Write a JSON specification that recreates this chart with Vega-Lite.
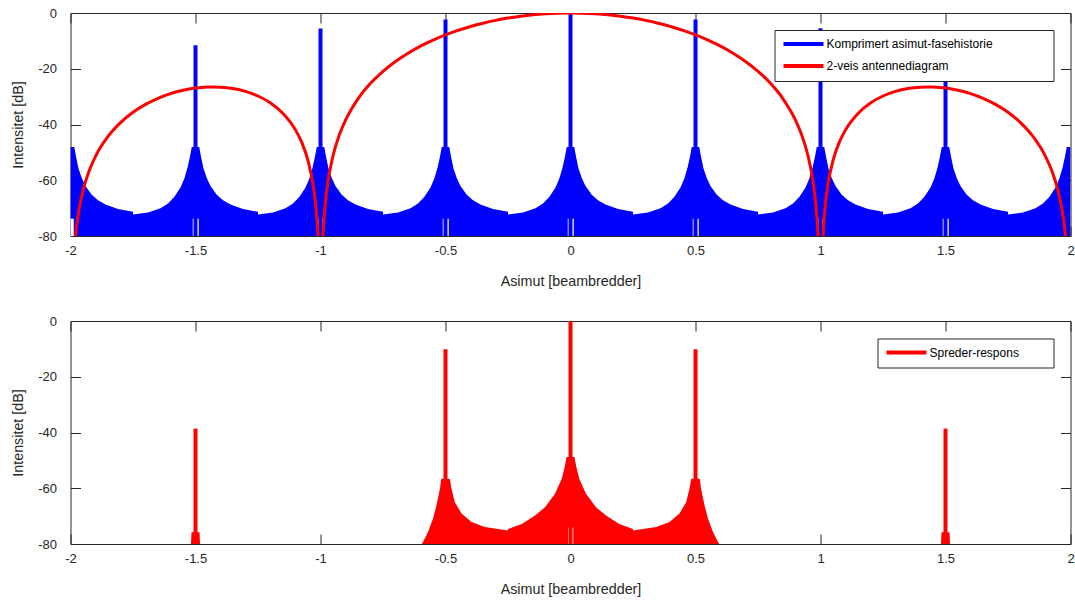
{
  "$schema": "https://vega.github.io/schema/vega-lite/v6.json",
  "background": "white",
  "padding": {"left": 11.5, "top": 7, "right": 0, "bottom": 0},
  "spacing": 85,
  "bounds": "flush",
  "datasets": {
    "env": [
      {"az": -2, "db": -48.1}, {"az": -1.985, "db": -48.1}, {"az": -1.978, "db": -51.5}, {"az": -1.968, "db": -55.8}, {"az": -1.955, "db": -59.2}, {"az": -1.94, "db": -62.1}, {"az": -1.915, "db": -65.2}, {"az": -1.89, "db": -67.2}, {"az": -1.86, "db": -68.7}, {"az": -1.81, "db": -70.3}, {"az": -1.75, "db": -71.3},
      {"az": -1.75, "db": -72.3}, {"az": -1.69, "db": -71.6}, {"az": -1.64, "db": -70.0}, {"az": -1.61, "db": -68.3}, {"az": -1.585, "db": -66.0}, {"az": -1.56, "db": -62.6}, {"az": -1.545, "db": -59.5}, {"az": -1.532, "db": -55.5}, {"az": -1.522, "db": -51.5}, {"az": -1.515, "db": -48.1},
      {"az": -1.485, "db": -48.1}, {"az": -1.478, "db": -51.5}, {"az": -1.468, "db": -55.8}, {"az": -1.455, "db": -59.2}, {"az": -1.44, "db": -62.1}, {"az": -1.415, "db": -65.2}, {"az": -1.39, "db": -67.2}, {"az": -1.36, "db": -68.7}, {"az": -1.31, "db": -70.3}, {"az": -1.25, "db": -71.3},
      {"az": -1.25, "db": -72.3}, {"az": -1.19, "db": -71.6}, {"az": -1.14, "db": -70.0}, {"az": -1.11, "db": -68.3}, {"az": -1.085, "db": -66.0}, {"az": -1.06, "db": -62.6}, {"az": -1.045, "db": -59.5}, {"az": -1.032, "db": -55.5}, {"az": -1.022, "db": -51.5}, {"az": -1.015, "db": -48.1},
      {"az": -0.985, "db": -48.1}, {"az": -0.978, "db": -51.5}, {"az": -0.968, "db": -55.8}, {"az": -0.955, "db": -59.2}, {"az": -0.94, "db": -62.1}, {"az": -0.915, "db": -65.2}, {"az": -0.89, "db": -67.2}, {"az": -0.86, "db": -68.7}, {"az": -0.81, "db": -70.3}, {"az": -0.75, "db": -71.3},
      {"az": -0.75, "db": -72.3}, {"az": -0.69, "db": -71.6}, {"az": -0.64, "db": -70.0}, {"az": -0.61, "db": -68.3}, {"az": -0.585, "db": -66.0}, {"az": -0.56, "db": -62.6}, {"az": -0.545, "db": -59.5}, {"az": -0.532, "db": -55.5}, {"az": -0.522, "db": -51.5}, {"az": -0.515, "db": -48.1},
      {"az": -0.485, "db": -48.1}, {"az": -0.478, "db": -51.5}, {"az": -0.468, "db": -55.8}, {"az": -0.455, "db": -59.2}, {"az": -0.44, "db": -62.1}, {"az": -0.415, "db": -65.2}, {"az": -0.39, "db": -67.2}, {"az": -0.36, "db": -68.7}, {"az": -0.31, "db": -70.3}, {"az": -0.25, "db": -71.3},
      {"az": -0.25, "db": -72.3}, {"az": -0.19, "db": -71.6}, {"az": -0.14, "db": -70.0}, {"az": -0.11, "db": -68.3}, {"az": -0.085, "db": -66.0}, {"az": -0.06, "db": -62.6}, {"az": -0.045, "db": -59.5}, {"az": -0.032, "db": -55.5}, {"az": -0.022, "db": -51.5}, {"az": -0.015, "db": -48.1},
      {"az": 0.015, "db": -48.1}, {"az": 0.022, "db": -51.5}, {"az": 0.032, "db": -55.8}, {"az": 0.045, "db": -59.2}, {"az": 0.06, "db": -62.1}, {"az": 0.085, "db": -65.2}, {"az": 0.11, "db": -67.2}, {"az": 0.14, "db": -68.7}, {"az": 0.19, "db": -70.3}, {"az": 0.25, "db": -71.3},
      {"az": 0.25, "db": -72.3}, {"az": 0.31, "db": -71.6}, {"az": 0.36, "db": -70.0}, {"az": 0.39, "db": -68.3}, {"az": 0.415, "db": -66.0}, {"az": 0.44, "db": -62.6}, {"az": 0.455, "db": -59.5}, {"az": 0.468, "db": -55.5}, {"az": 0.478, "db": -51.5}, {"az": 0.485, "db": -48.1},
      {"az": 0.515, "db": -48.1}, {"az": 0.522, "db": -51.5}, {"az": 0.532, "db": -55.8}, {"az": 0.545, "db": -59.2}, {"az": 0.56, "db": -62.1}, {"az": 0.585, "db": -65.2}, {"az": 0.61, "db": -67.2}, {"az": 0.64, "db": -68.7}, {"az": 0.69, "db": -70.3}, {"az": 0.75, "db": -71.3},
      {"az": 0.75, "db": -72.3}, {"az": 0.81, "db": -71.6}, {"az": 0.86, "db": -70.0}, {"az": 0.89, "db": -68.3}, {"az": 0.915, "db": -66.0}, {"az": 0.94, "db": -62.6}, {"az": 0.955, "db": -59.5}, {"az": 0.968, "db": -55.5}, {"az": 0.978, "db": -51.5}, {"az": 0.985, "db": -48.1},
      {"az": 1.015, "db": -48.1}, {"az": 1.022, "db": -51.5}, {"az": 1.032, "db": -55.8}, {"az": 1.045, "db": -59.2}, {"az": 1.06, "db": -62.1}, {"az": 1.085, "db": -65.2}, {"az": 1.11, "db": -67.2}, {"az": 1.14, "db": -68.7}, {"az": 1.19, "db": -70.3}, {"az": 1.25, "db": -71.3},
      {"az": 1.25, "db": -72.3}, {"az": 1.31, "db": -71.6}, {"az": 1.36, "db": -70.0}, {"az": 1.39, "db": -68.3}, {"az": 1.415, "db": -66.0}, {"az": 1.44, "db": -62.6}, {"az": 1.455, "db": -59.5}, {"az": 1.468, "db": -55.5}, {"az": 1.478, "db": -51.5}, {"az": 1.485, "db": -48.1},
      {"az": 1.515, "db": -48.1}, {"az": 1.522, "db": -51.5}, {"az": 1.532, "db": -55.8}, {"az": 1.545, "db": -59.2}, {"az": 1.56, "db": -62.1}, {"az": 1.585, "db": -65.2}, {"az": 1.61, "db": -67.2}, {"az": 1.64, "db": -68.7}, {"az": 1.69, "db": -70.3}, {"az": 1.75, "db": -71.3},
      {"az": 1.75, "db": -72.3}, {"az": 1.81, "db": -71.6}, {"az": 1.86, "db": -70.0}, {"az": 1.89, "db": -68.3}, {"az": 1.915, "db": -66.0}, {"az": 1.94, "db": -62.6}, {"az": 1.955, "db": -59.5}, {"az": 1.968, "db": -55.5}, {"az": 1.978, "db": -51.5}, {"az": 1.985, "db": -48.1}, {"az": 2, "db": -48.1}
    ],
    "notch": [
      {"a": -2, "b": -1.987}, {"a": -1.511, "b": -1.487}, {"a": -1.011, "b": -0.987}, {"a": -0.511, "b": -0.487},
      {"a": -0.011, "b": 0.013}, {"a": 0.489, "b": 0.513}, {"a": 0.989, "b": 1.013}, {"a": 1.489, "b": 1.513}
    ],
    "spk": [
      {"az": -1.5, "db": -11.6}, {"az": -1, "db": -5.6}, {"az": -0.5, "db": -2.3}, {"az": 0, "db": 0},
      {"az": 0.5, "db": -2.3}, {"az": 1, "db": -5.5}, {"az": 1.5, "db": -11.6}
    ],
    "ant": [
      {"az": -1.99, "db": -91.96}, {"az": -1.98, "db": -79.84}, {"az": -1.97, "db": -72.72}, {"az": -1.95, "db": -63.71}, {"az": -1.925, "db": -56.54}, {"az": -1.9, "db": -51.44}, {"az": -1.85, "db": -44.29}, {"az": -1.8, "db": -39.33}, {"az": -1.75, "db": -35.63}, {"az": -1.7, "db": -32.78}, {"az": -1.65, "db": -30.59}, {"az": -1.6, "db": -28.92}, {"az": -1.55, "db": -27.71}, {"az": -1.5, "db": -26.93}, {"az": -1.45, "db": -26.56}, {"az": -1.43, "db": -26.52}, {"az": -1.4, "db": -26.6}, {"az": -1.35, "db": -27.1}, {"az": -1.3, "db": -28.13}, {"az": -1.25, "db": -29.78}, {"az": -1.2, "db": -32.28}, {"az": -1.15, "db": -36.03}, {"az": -1.1, "db": -41.94}, {"az": -1.075, "db": -46.41}, {"az": -1.05, "db": -52.96}, {"az": -1.03, "db": -61.45}, {"az": -1.02, "db": -68.31}, {"az": -1.01, "db": -80.18}, {"az": -1.005, "db": -92.13},
      {"az": -0.995, "db": -91.96}, {"az": -0.99, "db": -79.83}, {"az": -0.98, "db": -67.62}, {"az": -0.97, "db": -60.41}, {"az": -0.95, "db": -51.22}, {"az": -0.925, "db": -43.8}, {"az": -0.9, "db": -38.46}, {"az": -0.85, "db": -30.78}, {"az": -0.8, "db": -25.24}, {"az": -0.75, "db": -20.91}, {"az": -0.7, "db": -17.37}, {"az": -0.65, "db": -14.41}, {"az": -0.6, "db": -11.88}, {"az": -0.55, "db": -9.72}, {"az": -0.5, "db": -7.85}, {"az": -0.45, "db": -6.23}, {"az": -0.4, "db": -4.84}, {"az": -0.35, "db": -3.65}, {"az": -0.3, "db": -2.65}, {"az": -0.25, "db": -1.82}, {"az": -0.2, "db": -1.16}, {"az": -0.15, "db": -0.65}, {"az": -0.1, "db": -0.29}, {"az": -0.05, "db": -0.07}, {"az": 0, "db": 0},
      {"az": 0.05, "db": -0.07}, {"az": 0.1, "db": -0.29}, {"az": 0.15, "db": -0.65}, {"az": 0.2, "db": -1.16}, {"az": 0.25, "db": -1.82}, {"az": 0.3, "db": -2.65}, {"az": 0.35, "db": -3.65}, {"az": 0.4, "db": -4.84}, {"az": 0.45, "db": -6.23}, {"az": 0.5, "db": -7.85}, {"az": 0.55, "db": -9.72}, {"az": 0.6, "db": -11.88}, {"az": 0.65, "db": -14.41}, {"az": 0.7, "db": -17.37}, {"az": 0.75, "db": -20.91}, {"az": 0.8, "db": -25.24}, {"az": 0.85, "db": -30.78}, {"az": 0.9, "db": -38.46}, {"az": 0.925, "db": -43.8}, {"az": 0.95, "db": -51.22}, {"az": 0.97, "db": -60.41}, {"az": 0.98, "db": -67.62}, {"az": 0.99, "db": -79.83}, {"az": 0.995, "db": -91.96},
      {"az": 1.005, "db": -92.13}, {"az": 1.01, "db": -80.18}, {"az": 1.02, "db": -68.31}, {"az": 1.03, "db": -61.45}, {"az": 1.05, "db": -52.96}, {"az": 1.075, "db": -46.41}, {"az": 1.1, "db": -41.94}, {"az": 1.15, "db": -36.03}, {"az": 1.2, "db": -32.28}, {"az": 1.25, "db": -29.78}, {"az": 1.3, "db": -28.13}, {"az": 1.35, "db": -27.1}, {"az": 1.4, "db": -26.6}, {"az": 1.43, "db": -26.52}, {"az": 1.45, "db": -26.56}, {"az": 1.5, "db": -26.93}, {"az": 1.55, "db": -27.71}, {"az": 1.6, "db": -28.92}, {"az": 1.65, "db": -30.59}, {"az": 1.7, "db": -32.78}, {"az": 1.75, "db": -35.63}, {"az": 1.8, "db": -39.33}, {"az": 1.85, "db": -44.29}, {"az": 1.9, "db": -51.44}, {"az": 1.925, "db": -56.54}, {"az": 1.95, "db": -63.71}, {"az": 1.97, "db": -72.72}, {"az": 1.98, "db": -79.84}, {"az": 1.99, "db": -91.96}
    ],
    "env2": [
      {"az": -1.518, "db": -80}, {"az": -1.516, "db": -75.8}, {"az": -1.484, "db": -75.8}, {"az": -1.482, "db": -80},
      {"az": -0.595, "db": -80}, {"az": -0.59, "db": -79.3}, {"az": -0.57, "db": -75.7}, {"az": -0.55, "db": -70.9}, {"az": -0.536, "db": -66.1}, {"az": -0.522, "db": -60.1}, {"az": -0.517, "db": -56.6},
      {"az": -0.483, "db": -56.6}, {"az": -0.476, "db": -60.1}, {"az": -0.463, "db": -64.9}, {"az": -0.436, "db": -69.1}, {"az": -0.396, "db": -72.1}, {"az": -0.343, "db": -73.9}, {"az": -0.25, "db": -75.2},
      {"az": -0.25, "db": -74.6}, {"az": -0.195, "db": -72.8}, {"az": -0.142, "db": -69.8}, {"az": -0.102, "db": -66.8}, {"az": -0.062, "db": -62.0}, {"az": -0.035, "db": -56.6}, {"az": -0.022, "db": -51.8}, {"az": -0.016, "db": -48.8},
      {"az": 0.016, "db": -48.8}, {"az": 0.022, "db": -51.8}, {"az": 0.035, "db": -56.6}, {"az": 0.062, "db": -62.0}, {"az": 0.102, "db": -66.8}, {"az": 0.142, "db": -69.8}, {"az": 0.195, "db": -72.8}, {"az": 0.25, "db": -74.6},
      {"az": 0.25, "db": -75.2}, {"az": 0.343, "db": -73.9}, {"az": 0.396, "db": -72.1}, {"az": 0.436, "db": -69.1}, {"az": 0.463, "db": -64.9}, {"az": 0.476, "db": -60.1}, {"az": 0.483, "db": -56.6},
      {"az": 0.517, "db": -56.6}, {"az": 0.522, "db": -60.1}, {"az": 0.536, "db": -66.1}, {"az": 0.55, "db": -70.9}, {"az": 0.57, "db": -75.7}, {"az": 0.59, "db": -79.3}, {"az": 0.595, "db": -80},
      {"az": 1.482, "db": -80}, {"az": 1.484, "db": -75.8}, {"az": 1.516, "db": -75.8}, {"az": 1.518, "db": -80}
    ],
    "notch2": [{"a": -0.009, "b": 0.011}],
    "spk2": [
      {"az": -1.5, "db": -38.6}, {"az": -0.5, "db": -10.1}, {"az": 0, "db": 0}, {"az": 0.5, "db": -10.1}, {"az": 1.5, "db": -38.6}
    ]
  },
  "vconcat": [
    {
      "width": 1000,
      "height": 223,
      "resolve": {"axis": {"x": "independent", "y": "independent"}},
      "layer": [
        {
          "data": {"name": "env"},
          "mark": {"type": "area", "color": "#0000ff", "clip": true},
          "encoding": {
            "x": {"field": "az", "type": "quantitative", "scale": {"domain": [-2, 2], "nice": false, "zero": false},
              "axis": {"orient": "bottom", "values": [-2, -1.5, -1, -0.5, 0, 0.5, 1, 1.5, 2], "title": "Asimut [beambredder]", "labelFlush": false, "labelPadding": 18, "titlePadding": 17}},
            "y": {"field": "db", "type": "quantitative", "scale": {"domain": [-80, 0], "nice": false, "zero": false},
              "axis": {"orient": "left", "values": [-80, -60, -40, -20, 0], "title": "Intensitet [dB]", "labelFlush": false, "labelPadding": 24, "titlePadding": 12}},
            "y2": {"datum": -80}
          }
        },
        {
          "data": {"name": "notch"},
          "mark": {"type": "rect", "color": "white"},
          "encoding": {
            "x": {"field": "a", "type": "quantitative", "axis": null},
            "x2": {"field": "b"},
            "y": {"datum": -80, "type": "quantitative", "axis": null},
            "y2": {"datum": -73.8}
          }
        },
        {
          "data": {"name": "spk"},
          "mark": {"type": "rule", "strokeWidth": 4},
          "encoding": {
            "x": {"field": "az", "type": "quantitative", "axis": null},
            "y": {"field": "db", "type": "quantitative", "axis": null},
            "y2": {"datum": -80},
            "color": {"datum": "Komprimert asimut-fasehistorie", "type": "nominal",
              "scale": {"domain": ["Komprimert asimut-fasehistorie", "2-veis antennediagram"], "range": ["#0000ff", "#ff0000"]},
              "legend": {"orient": "none", "legendX": 704, "legendY": 17, "title": "\u2800\u2800\u2800\u2800\u2800\u2800", "titleOrient": "right", "titlePadding": 0}}
          }
        },
        {
          "data": {"name": "ant"},
          "mark": {"type": "line", "strokeWidth": 3, "clip": true, "interpolate": "monotone"},
          "encoding": {
            "x": {"field": "az", "type": "quantitative",
              "axis": {"orient": "top", "values": [-2, -1.5, -1, -0.5, 0, 0.5, 1, 1.5, 2], "labels": false, "title": null}},
            "y": {"field": "db", "type": "quantitative",
              "axis": {"orient": "right", "values": [-80, -60, -40, -20, 0], "labels": false, "title": null}},
            "color": {"datum": "2-veis antennediagram", "type": "nominal",
              "scale": {"domain": ["Komprimert asimut-fasehistorie", "2-veis antennediagram"], "range": ["#0000ff", "#ff0000"]},
              "legend": {"orient": "none", "legendX": 704, "legendY": 17, "title": "\u2800\u2800\u2800\u2800\u2800\u2800", "titleOrient": "right", "titlePadding": 0}}
          }
        }
      ]
    },
    {
      "width": 1000,
      "height": 223,
      "resolve": {"axis": {"x": "independent", "y": "independent"}},
      "layer": [
        {
          "data": {"name": "env2"},
          "mark": {"type": "area", "color": "#ff0000", "clip": true},
          "encoding": {
            "x": {"field": "az", "type": "quantitative", "scale": {"domain": [-2, 2], "nice": false, "zero": false},
              "axis": {"orient": "bottom", "values": [-2, -1.5, -1, -0.5, 0, 0.5, 1, 1.5, 2], "title": "Asimut [beambredder]", "labelFlush": false, "labelPadding": 18, "titlePadding": 17}},
            "y": {"field": "db", "type": "quantitative", "scale": {"domain": [-80, 0], "nice": false, "zero": false},
              "axis": {"orient": "left", "values": [-80, -60, -40, -20, 0], "title": "Intensitet [dB]", "labelFlush": false, "labelPadding": 24, "titlePadding": 12}},
            "y2": {"datum": -80}
          }
        },
        {
          "data": {"name": "notch2"},
          "mark": {"type": "rect", "color": "white"},
          "encoding": {
            "x": {"field": "a", "type": "quantitative", "axis": null},
            "x2": {"field": "b"},
            "y": {"datum": -80, "type": "quantitative", "axis": null},
            "y2": {"datum": -74.1}
          }
        },
        {
          "data": {"name": "spk2"},
          "mark": {"type": "rule", "strokeWidth": 4},
          "encoding": {
            "x": {"field": "az", "type": "quantitative",
              "axis": {"orient": "top", "values": [-2, -1.5, -1, -0.5, 0, 0.5, 1, 1.5, 2], "labels": false, "title": null}},
            "y": {"field": "db", "type": "quantitative",
              "axis": {"orient": "right", "values": [-80, -60, -40, -20, 0], "labels": false, "title": null}},
            "y2": {"datum": -80},
            "color": {"datum": "Spreder-respons", "type": "nominal",
              "scale": {"domain": ["Spreder-respons"], "range": ["#ff0000"]},
              "legend": {"orient": "none", "legendX": 807, "legendY": 17.5, "title": "\u2800\u2800\u2800", "titleOrient": "right", "titlePadding": 1}}
          }
        }
      ]
    }
  ],
  "resolve": {"scale": {"color": "independent"}, "legend": {"color": "independent"}},
  "config": {
    "view": {"stroke": null},
    "font": "Liberation Sans",
    "axis": {
      "domainColor": "#262626", "tickColor": "#262626", "labelColor": "#262626", "titleColor": "#262626",
      "labelFont": "Liberation Sans", "titleFont": "Liberation Sans", "labelFontSize": 13, "titleFontSize": 14.3,
      "titleFontWeight": "normal", "tickSize": -10, "grid": false, "zindex": 1, "labelExpr": "datum.value + ''"
    },
    "legend": {
      "symbolType": "M-1,0H7",
      "symbolSize": 100,
      "symbolStrokeWidth": 4,
      "labelFont": "Liberation Sans",
      "labelFontSize": 12,
      "labelColor": "#000000",
      "labelLimit": 400,
      "titleFont": "Liberation Sans",
      "titleFontSize": 12,
      "titleColor": "white",
      "strokeColor": "#262626",
      "fillColor": "white",
      "padding": 7,
      "rowPadding": 6,
      "labelOffset": 31
    }
  }
}
